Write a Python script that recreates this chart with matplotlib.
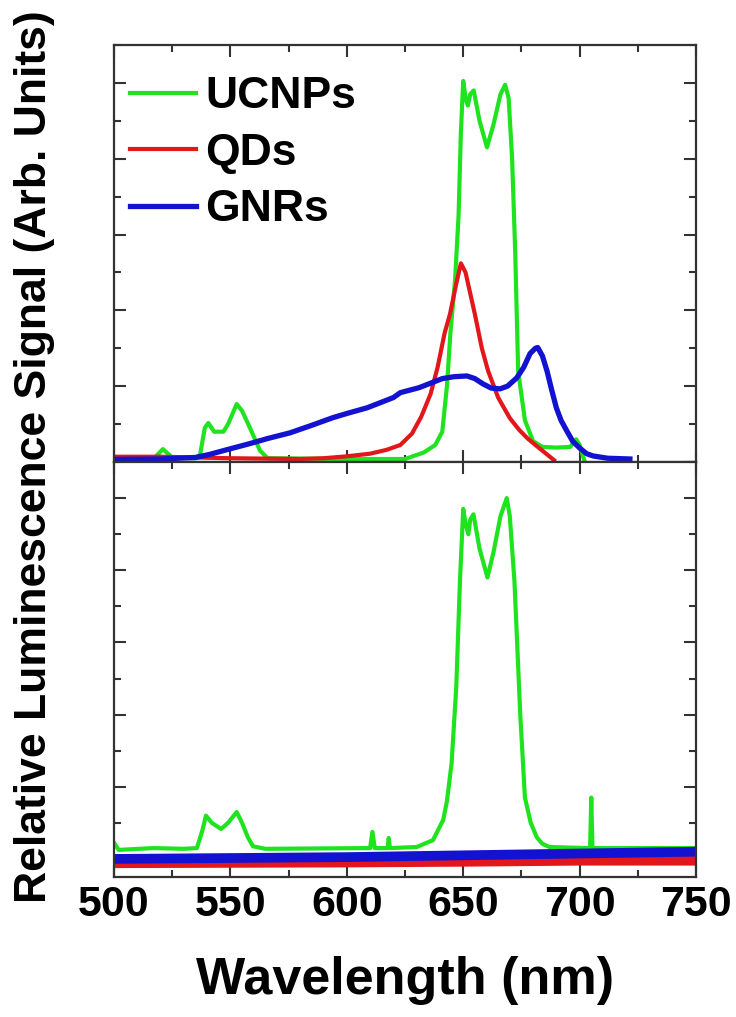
import numpy as np
import matplotlib
matplotlib.use('Agg')
import matplotlib.pyplot as plt
from matplotlib.ticker import MultipleLocator

# Colours of the three samples
green = '#1ee31e'
red = '#e3161c'
blue = '#1212d0'

# Top panel: all three samples (arb. units, 0-11 scale)
ucnp_top_wl = [500, 515, 518, 521, 525, 535, 537, 539, 540.5, 543, 547, 549, 552.7, 555, 558.4, 562.7, 566,
               600, 625, 633, 638, 641, 643, 644.5, 646.5, 648, 649, 650, 651, 652, 653, 654.5, 657, 660.2,
               663, 666, 668, 669.5, 671, 672.3, 673.6, 676.5, 680, 684, 690, 696, 698.5, 700, 702]
ucnp_top_val = [0.05, 0.05, 0.15, 0.34, 0.12, 0.1, 0.2, 0.9, 1.03, 0.8, 0.8, 1.0, 1.53, 1.35, 0.9, 0.3, 0.1,
                0.08, 0.08, 0.25, 0.45, 0.8, 2.0, 3.4, 4.8, 6.5, 8.7, 10.05, 9.6, 9.4, 9.7, 9.8, 9.0, 8.3,
                8.9, 9.7, 9.95, 9.6, 8.0, 5.6, 2.4, 1.1, 0.55, 0.4, 0.38, 0.4, 0.6, 0.45, 0.05]

qd_top_wl = [500, 520, 550, 580, 590, 600, 610, 617, 623, 628, 632, 636, 639, 642, 644.3, 647, 649, 651,
             655, 658, 660.7, 665, 670, 674, 677.5, 681, 685, 689]
qd_top_val = [0.14, 0.14, 0.1, 0.08, 0.1, 0.15, 0.22, 0.32, 0.45, 0.75, 1.2, 1.8, 2.5, 3.4, 3.9, 4.7, 5.24, 5.0,
              3.9, 3.0, 2.4, 1.7, 1.16, 0.85, 0.63, 0.45, 0.25, 0.05]

gnr_top_wl = [500, 520, 535, 541, 550, 558, 566, 575.6, 585, 594, 600, 608.7, 615, 620, 623, 631, 641, 646,
              651.6, 655, 658.5, 662, 665.8, 669, 673, 676, 678.7, 681, 682, 684, 686, 688, 690, 692, 694.5,
              697, 700, 703, 705.8, 712, 721.6]
gnr_top_val = [0.07, 0.08, 0.12, 0.2, 0.35, 0.48, 0.62, 0.77, 0.97, 1.17, 1.28, 1.43, 1.58, 1.7, 1.83, 1.96,
               2.2, 2.25, 2.27, 2.2, 2.06, 1.95, 1.93, 2.0, 2.22, 2.5, 2.86, 3.0, 3.02, 2.8, 2.4, 1.9, 1.43,
               1.1, 0.82, 0.55, 0.37, 0.22, 0.16, 0.1, 0.08]

# Bottom panel
ucnp_bot_wl = [500, 502, 517, 530, 535.6, 538, 539.5, 542, 546, 549, 552.7, 555, 557.5, 559.7, 565, 610,
               611, 612, 617.5, 618, 618.5, 630, 637, 641.4, 643, 645, 647, 648.6, 650, 651, 652.2, 653,
               654.4, 657, 660.4, 663, 666, 668.7, 670, 672, 674.5, 676.5, 679, 681.6, 684, 687, 704.5,
               705, 705.5, 750]
ucnp_bot_val = [0.45, 0.25, 0.3, 0.28, 0.3, 0.8, 1.2, 1.0, 0.83, 1.0, 1.3, 1.0, 0.6, 0.35, 0.28, 0.3,
                0.75, 0.3, 0.3, 0.58, 0.3, 0.33, 0.52, 1.08, 1.6, 2.65, 4.75, 7.7, 9.7, 9.3, 9.0, 9.4,
                9.55, 8.6, 7.8, 8.5, 9.5, 10.0, 9.5, 7.7, 4.0, 1.7, 1.0, 0.6, 0.42, 0.33, 0.3,
                1.7, 0.3, 0.3]

qd_bot_wl = [500, 600, 650, 700, 750]
qd_bot_val = [-0.12, -0.1, -0.08, -0.05, -0.05]

gnr_bot_wl = [500, 600, 650, 700, 750]
gnr_bot_val = [0.0, 0.05, 0.1, 0.15, 0.2]

xticks = [500, 550, 600, 650, 700, 750]

fig = plt.figure(figsize=(7.36, 10.17), dpi=100)
ax_top = fig.add_axes([0.1549, 0.5457, 0.7908, 0.4101])
ax_bot = fig.add_axes([0.1549, 0.1377, 0.7908, 0.4080])

# Top panel curves
ax_top.plot(ucnp_top_wl, ucnp_top_val, color=green, lw=3, label='UCNPs')
ax_top.plot(qd_top_wl, qd_top_val, color=red, lw=3, label='QDs')
ax_top.plot(gnr_top_wl, gnr_top_val, color=blue, lw=3.8, label='GNRs')

# Bottom panel curves (the noisy baselines are drawn as thick bands)
ax_bot.plot(qd_bot_wl, qd_bot_val, color=red, lw=7)
ax_bot.plot(ucnp_bot_wl, ucnp_bot_val, color=green, lw=3)
ax_bot.plot(gnr_bot_wl, gnr_bot_val, color=blue, lw=7)

ax_top.set_ylim(0, 11)
ax_bot.set_ylim(-0.5, 11)

for ax in (ax_top, ax_bot):
    ax.set_xlim(500, 750)
    ax.xaxis.set_major_locator(MultipleLocator(50))
    ax.xaxis.set_minor_locator(MultipleLocator(25))
    ax.yaxis.set_major_locator(MultipleLocator(2))
    ax.yaxis.set_minor_locator(MultipleLocator(1))
    ax.tick_params(which='both', direction='in', top=True, right=True, width=1.5, color='#333333')
    ax.tick_params(which='major', length=8.5)
    ax.tick_params(which='minor', length=5)
    ax.tick_params(axis='y', labelleft=False)
    for sp in ax.spines.values():
        sp.set_linewidth(1.6)
        sp.set_color('#333333')

ax_top.tick_params(axis='x', labelbottom=False)
ax_bot.set_xticks(xticks)
ax_bot.set_xticklabels([str(t) for t in xticks],
                       fontdict={'family': 'Liberation Sans', 'weight': 'bold', 'size': 31})
ax_bot.tick_params(axis='x', pad=6)

ax_bot.set_xlabel('Wavelength (nm)', family='Liberation Sans',
                  weight='bold', size=37.5, labelpad=22)

fig.text(35 / 736, 1 - 456.5 / 1017, 'Relative Luminescence Signal (Arb. Units)',
         family=['Liberation Sans', 'DejaVu Sans'], weight='bold', size=32,
         rotation=90, ha='center', va='center')

ax_top.legend(loc='upper left', bbox_to_anchor=(0.027, 0.925), frameon=False,
              prop={'family': 'Liberation Sans', 'weight': 'bold', 'size': 32},
              handlelength=1.5, handletextpad=0.2, labelspacing=0.35,
              borderpad=0, borderaxespad=0)

plt.savefig('out.png', dpi=100)
